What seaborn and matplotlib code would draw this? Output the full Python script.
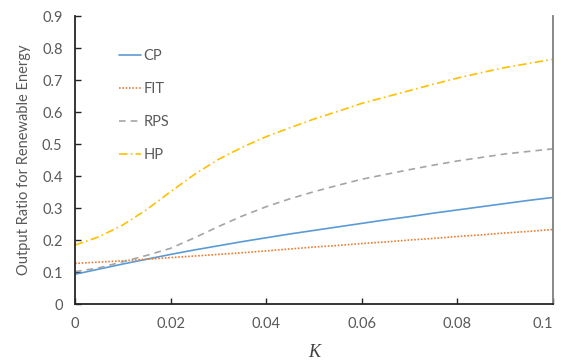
import numpy as np
import pandas as pd
import matplotlib
matplotlib.use("Agg")
import matplotlib.pyplot as plt
import seaborn as sns

# values
k_values = [0.000, 0.005, 0.010, 0.015, 0.020, 0.025, 0.030, 0.035, 0.040, 0.045, 0.050,
            0.055, 0.060, 0.065, 0.070, 0.075, 0.080, 0.085, 0.090, 0.095, 0.100]
cp = [0.093, 0.109, 0.125, 0.140, 0.155, 0.169, 0.182, 0.195, 0.207, 0.219, 0.230,
      0.241, 0.252, 0.263, 0.273, 0.284, 0.294, 0.304, 0.314, 0.324, 0.333]
fit = [0.127, 0.131, 0.135, 0.140, 0.145, 0.150, 0.155, 0.160, 0.166, 0.172, 0.178,
       0.183, 0.189, 0.194, 0.200, 0.205, 0.211, 0.216, 0.222, 0.227, 0.233]
rps = [0.101, 0.113, 0.132, 0.152, 0.174, 0.207, 0.242, 0.275, 0.304, 0.329, 0.351,
       0.371, 0.390, 0.405, 0.420, 0.434, 0.447, 0.458, 0.469, 0.477, 0.485]
hp = [0.184, 0.210, 0.247, 0.295, 0.351, 0.405, 0.452, 0.490, 0.523, 0.551, 0.578,
      0.602, 0.627, 0.647, 0.667, 0.687, 0.706, 0.723, 0.739, 0.752, 0.765]

series_names = ['CP', 'FIT', 'RPS', 'HP']
series_values = [cp, fit, rps, hp]
x_ticklabels = ['0', '0.02', '0.04', '0.06', '0.08', '0.1']
y_ticklabels = ['0', '0.1', '0.2', '0.3', '0.4', '0.5', '0.6', '0.7', '0.8', '0.9']

# build a long-form table for seaborn
frames = []
for name, vals in zip(series_names, series_values):
    frames.append(pd.DataFrame({'K': k_values, 'ratio': vals, 'policy': name}))
df = pd.concat(frames, ignore_index=True)

sns.set_theme(style='white')
plt.rcParams['font.family'] = ['Lato', 'DejaVu Sans']

text_gray = '#595959'
palette = {'CP': '#5B9BD5', 'FIT': '#ED7D31', 'RPS': '#A5A5A5', 'HP': '#FFC000'}
dash_map = {'CP': '', 'FIT': (1, 1), 'RPS': (4, 3), 'HP': (5, 2, 1, 2)}

fig = plt.figure(figsize=(5.61, 3.64), dpi=100)
ax = fig.add_axes([0.1337, 0.1648, 0.852, 0.7912])

sns.lineplot(data=df, x='K', y='ratio', hue='policy', style='policy',
             palette=palette, dashes=dash_map, linewidth=1.2, ax=ax,
             hue_order=series_names, style_order=series_names)

ax.set_xlim(0, 0.1)
ax.set_ylim(0, 0.9)
ax.set_xticks(np.linspace(0, 0.1, len(x_ticklabels)))
ax.set_xticklabels(x_ticklabels)
ax.set_yticks(np.linspace(0, 0.9, len(y_ticklabels)))
ax.set_yticklabels(y_ticklabels)

ax.tick_params(axis='both', direction='in', length=4, width=1, colors='#262626',
               labelcolor=text_gray, labelsize=10.5, pad=9)
ax.tick_params(axis='y', left=True)
ax.tick_params(axis='x', bottom=True)

# last x label sits inside the figure edge, as in the reference
ax.get_xticklabels()[-1].set_horizontalalignment('right')

for side in ['left', 'bottom']:
    ax.spines[side].set_color('#262626')
    ax.spines[side].set_linewidth(1.3)
ax.spines['right'].set_color('#7f7f7f')
ax.spines['right'].set_linewidth(1.3)
ax.spines['top'].set_visible(False)

ax.set_ylabel('Output Ratio for Renewable Energy', color=text_gray, fontsize=10.5, labelpad=8)
ax.set_xlabel('K', family=['Liberation Serif'], style='italic', fontsize=13,
              color='#404040', labelpad=10)

leg = ax.legend(loc='upper left', bbox_to_anchor=(0.065, 0.93), frameon=False,
                fontsize=10.5, labelspacing=1.3, handlelength=1.5, handletextpad=0.15)
for t in leg.get_texts():
    t.set_color(text_gray)

fig.savefig('out.png', dpi=100)
